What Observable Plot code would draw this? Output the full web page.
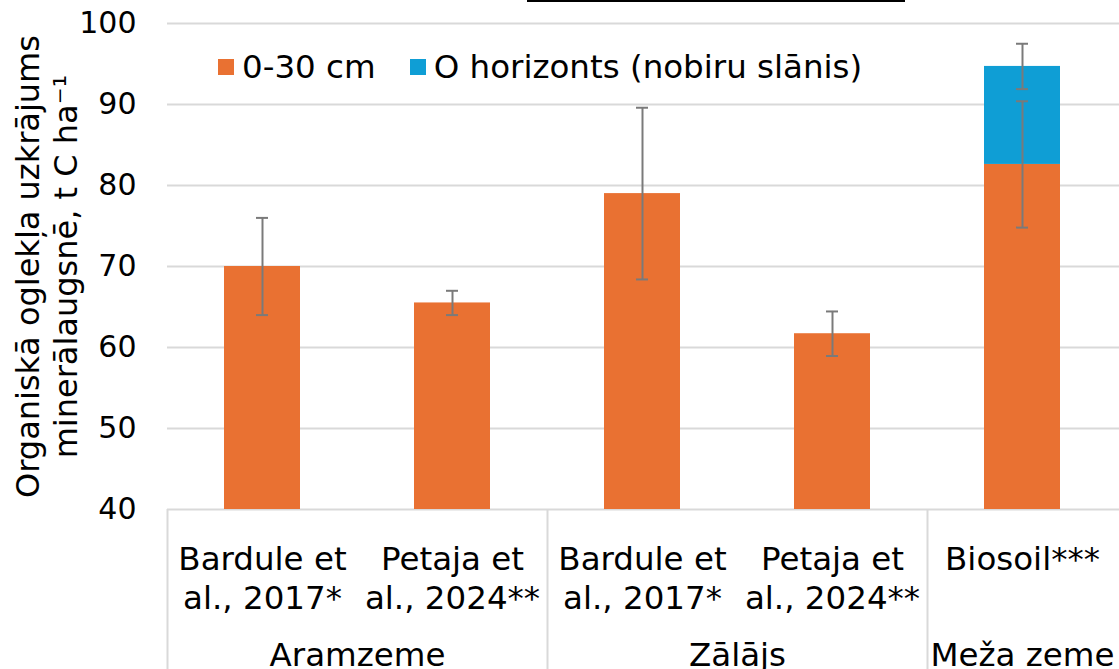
<!DOCTYPE html>
<html>
<head>
<meta charset="utf-8">
<script src="https://cdn.jsdelivr.net/npm/d3@7"></script>
<script src="https://cdn.jsdelivr.net/npm/@observablehq/plot@0.6"></script>
<style>
  html, body { margin: 0; padding: 0; background: #fff; }
  #wrap { position: relative; width: 1119px; height: 669px; overflow: hidden; font-family: "DejaVu Sans", Verdana, sans-serif; }
  #titlefrag { position: absolute; left: 527px; top: 0; width: 378px; height: 2px; background: #000; }
  #legend { position: absolute; left: 218px; top: 48px; display: flex; align-items: center; font-size: 32.5px; color: #000; white-space: nowrap; }
  #legend .item { display: flex; align-items: center; margin-right: 34px; }
  #legend .sw { width: 16px; height: 16px; margin-right: 8px; }
</style>
</head>
<body>
<div id="wrap">
  <div id="chart"></div>
  <div id="titlefrag"></div>
  <div id="legend"></div>
</div>
<script>
// ---- data ----
const ids = ["a1", "a2", "z1", "z2", "m1"];
const categoryLabels = ["Bardule et\nal., 2017*", "Petaja et\nal., 2024**", "Bardule et\nal., 2017*", "Petaja et\nal., 2024**", "Biosoil***"];
const groupOf = ["Aramzeme", "Aramzeme", "Zālājs", "Zālājs", "Meža zeme"];
const soil = [70.0, 65.5, 79.0, 61.7, 82.6];        // 0-30 cm
const soilErr = [6.0, 1.5, 10.6, 2.75, 7.8];
const oHorizon = [0, 0, 0, 0, 12.1];                  // O horizonts
const oErr = [null, null, null, null, 2.8];
const yTicks = [40, 50, 60, 70, 80, 90, 100];
const seriesNames = ["0-30 cm", "O horizonts (nobiru slānis)"];
const seriesColors = ["#E97132", "#0F9ED5"];
const yLabel = "Organiskā oglekļa uzkrājums\nminerālaugsnē, t C ha⁻¹";

// ---- derived tables ----
const rows = [];
ids.forEach((id, i) => {
  rows.push({id, series: seriesNames[0], value: soil[i]});
  rows.push({id, series: seriesNames[1], value: oHorizon[i]});
});
const errRows = [];
ids.forEach((id, i) => {
  errRows.push({id, c: soil[i], e: soilErr[i]});
  if (oErr[i] != null) errRows.push({id, c: soil[i] + oHorizon[i], e: oErr[i]});
});
const groups = [];
groupOf.forEach((g, i) => {
  let G = groups.find(d => d.name === g);
  if (!G) { G = {name: g, first: ids[i], n: 0}; groups.push(G); }
  G.n++;
});
const labelOf = Object.fromEntries(ids.map((id, i) => [id, categoryLabels[i]]));

const grid = "#d9d9d9";
const errColor = "#7a7a7a";

const chart = Plot.plot({
  width: 1119,
  height: 669,
  marginLeft: 167,
  marginRight: 2,
  marginTop: 23,
  marginBottom: 160,
  style: {fontFamily: "'DejaVu Sans', Verdana, sans-serif", fontSize: "30px", color: "#000", background: "#fff", overflow: "visible"},
  x: {domain: ids, paddingInner: 0.6, paddingOuter: 0.3, axis: null},
  y: {domain: [40, 100], axis: null},
  color: {domain: seriesNames, range: seriesColors},
  marks: [
    Plot.ruleY(yTicks, {stroke: grid, strokeWidth: 2, insetRight: -2}),
    Plot.barY(rows, {x: "id", y: "value", fill: "series", clip: true}),
    Plot.ruleX(errRows, {x: "id", y1: d => d.c - d.e, y2: d => d.c + d.e, stroke: errColor, strokeWidth: 2}),
    Plot.tickY(errRows, {x: "id", y: d => d.c - d.e, stroke: errColor, strokeWidth: 2, insetLeft: 32, insetRight: 32}),
    Plot.tickY(errRows, {x: "id", y: d => d.c + d.e, stroke: errColor, strokeWidth: 2, insetLeft: 32, insetRight: 32}),
    Plot.axisY({ticks: yTicks, tickSize: 0, tickPadding: 31, fontSize: 30, fill: "#000", label: null}),
    Plot.axisX({ticks: ids, tickFormat: d => labelOf[d], tickSize: 0, tickPadding: 33, fontSize: 32.5, lineHeight: 1.2, fill: "#000", label: null}),
    // category separators below the axis
    Plot.ruleX(groups.map(g => g.first), {x: d => d, dx: -95, insetTop: 486, insetBottom: -160, stroke: grid, strokeWidth: 2}),
    // group labels
    Plot.text(groups.filter(g => g.n === 2), {x: "first", text: "name", frameAnchor: "bottom", lineAnchor: "top", dy: 133, dx: 95, fontSize: 32.5, fill: "#000"}),
    Plot.text(groups.filter(g => g.n === 1), {x: "first", text: "name", frameAnchor: "bottom", lineAnchor: "top", dy: 133, fontSize: 32.5, fill: "#000"}),
    // y axis title
    Plot.text([yLabel], {text: d => d, frameAnchor: "left", textAnchor: "middle", rotate: -90, dx: -122, fontSize: 32, lineHeight: 1.19, fill: "#000"})
  ]
});
document.getElementById("chart").appendChild(chart);

// legend
const legend = document.getElementById("legend");
seriesNames.forEach((name, i) => {
  const item = document.createElement("div");
  item.className = "item";
  const sw = document.createElement("div");
  sw.className = "sw";
  sw.style.background = seriesColors[i];
  const t = document.createElement("span");
  t.textContent = name;
  item.appendChild(sw); item.appendChild(t);
  legend.appendChild(item);
});
</script>
</body>
</html>
